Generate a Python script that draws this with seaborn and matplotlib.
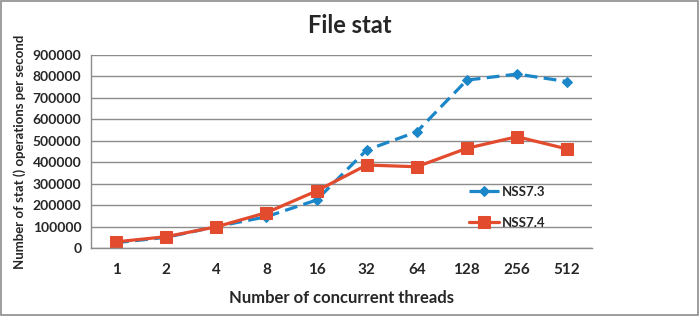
import matplotlib
matplotlib.use("Agg")
import matplotlib.pyplot as plt
import seaborn as sns
import pandas as pd
from matplotlib.ticker import FixedLocator
from matplotlib.patches import Rectangle

threads = ["1", "2", "4", "8", "16", "32", "64", "128", "256", "512"]
nss73 = [25000, 50000, 100000, 146000, 224000, 457000, 542000, 783000, 811000, 776000]
nss74 = [29000, 53000, 99000, 165000, 266000, 387000, 379000, 465000, 519000, 462000]
series_names = ["NSS7.3", "NSS7.4"]

df = pd.DataFrame({
    "threads": threads * 2,
    "ops": nss73 + nss74,
    "series": [series_names[0]] * len(threads) + [series_names[1]] * len(threads),
})

sns.set_style("white")
plt.rcParams["font.family"] = ["Lato", "DejaVu Sans"]

fig = plt.figure(figsize=(7, 3.16), dpi=100)
ax = fig.add_axes([0.130, 0.215, 0.716, 0.611])

palette = {"NSS7.3": "#1B86C8", "NSS7.4": "#E24B2E"}
sns.lineplot(data=df, x="threads", y="ops", hue="series", style="series",
             palette=palette, markers={"NSS7.3": "D", "NSS7.4": "s"},
             dashes={"NSS7.3": (4, 2), "NSS7.4": ""}, sort=False,
             linewidth=2.3, ax=ax)
for line in ax.lines:
    if line.get_marker() == "s":
        line.set_markersize(9)
    else:
        line.set_markersize(5)
    line.set_markeredgecolor(line.get_color())

ax.set_xlim(-0.5, len(threads) - 0.5)
ax.set_ylim(0, 900000)
ax.set_yticks(range(0, 900001, 100000))
ax.yaxis.grid(True, color="#8c8c8c", linewidth=1)
ax.xaxis.grid(False)
ax.set_axisbelow(True)

for s in ["top", "right"]:
    ax.spines[s].set_visible(False)
ax.spines["left"].set_color("#8c8c8c")
ax.spines["bottom"].set_color("#8c8c8c")
ax.spines["left"].set_linewidth(1)
ax.spines["bottom"].set_linewidth(1)

ax.tick_params(axis="x", which="major", length=0, pad=11, labelsize=11)
ax.xaxis.set_minor_locator(FixedLocator([i + 0.5 for i in range(-1, len(threads))]))
ax.tick_params(axis="x", which="minor", length=5, color="#8c8c8c", direction="out")
ax.tick_params(axis="y", length=4, color="#8c8c8c", direction="out", labelsize=10, pad=3)
for lbl in ax.get_xticklabels() + ax.get_yticklabels():
    lbl.set_fontweight("bold")

ax.set_xlabel("Number of concurrent threads", fontsize=12, fontweight="bold", labelpad=9)
ax.set_ylabel("Number of stat () operations per second", fontsize=9.5, fontweight="bold", labelpad=5)
fig.suptitle("File stat", fontsize=17, fontweight="bold", y=0.955)

leg = ax.legend(loc="upper left", bbox_to_anchor=(0.73, 0.385), frameon=False,
                fontsize=9.5, labelspacing=1.45, handlelength=2.3, handletextpad=0.2)
for t in leg.get_texts():
    t.set_fontweight("bold")

fig.patches.append(Rectangle((0.002, 0.003), 0.995, 0.993, transform=fig.transFigure,
                             fill=False, edgecolor="#8c8c8c", linewidth=1.2))

fig.savefig("out.png", dpi=100, facecolor="white")
